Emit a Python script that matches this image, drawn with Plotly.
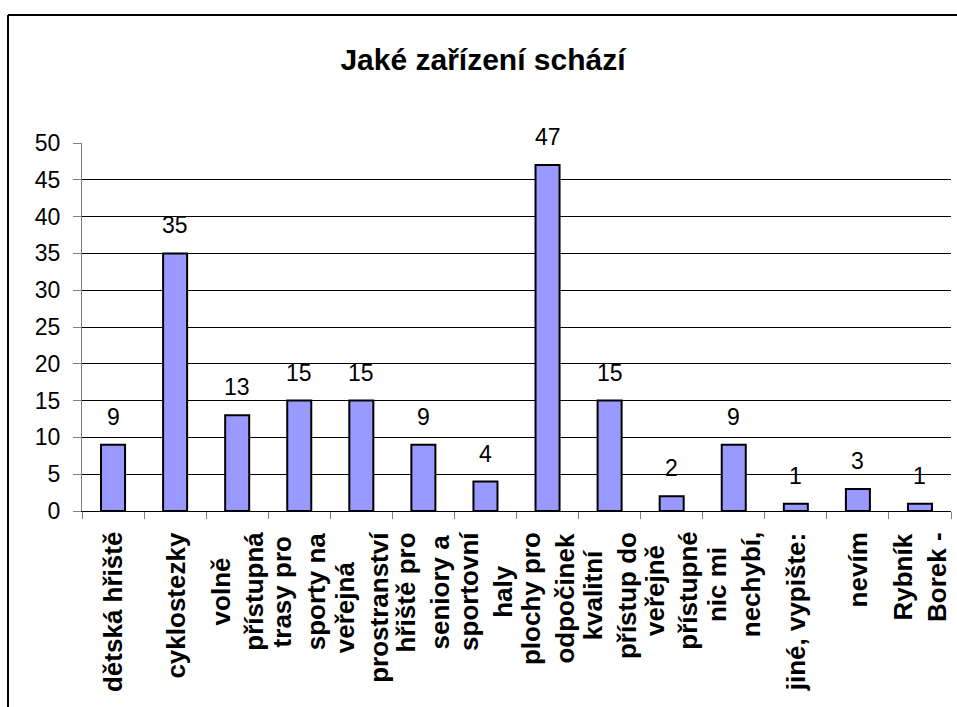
import plotly.graph_objects as go

categories = [
    "dětská hřiště",
    "cyklostezky",
    "volně<br>přístupná",
    "trasy pro<br>sporty na",
    "veřejná<br>prostranství",
    "hřiště pro<br>seniory a",
    "sportovní<br>haly",
    "plochy pro<br>odpočinek",
    "kvalitní<br>přístup do",
    "veřejně<br>přístupné",
    "nic mi<br>nechybí,",
    "jiné, vypište:",
    "nevím",
    "Rybník<br>Borek -",
]
values = [9, 35, 13, 15, 15, 9, 4, 47, 15, 2, 9, 1, 3, 1]
y_ticks = [0, 5, 10, 15, 20, 25, 30, 35, 40, 45, 50]
grid_ticks = [5, 10, 15, 20, 25, 30, 35, 40, 45]
title_text = "Jaké zařízení schází"

FONT = "Liberation Sans, Arial, sans-serif"
W, H = 957, 707
L, R, T, B = 82, 6, 143, 196

fig = go.Figure()
fig.add_trace(go.Bar(
    x=categories, y=values,
    marker=dict(color="#9999FF", line=dict(color="black", width=2)),
    hoverinfo="skip", showlegend=False,
))
# helper trace for gridline axis
fig.add_trace(go.Scatter(
    x=categories, y=values, yaxis="y2", mode="markers",
    marker=dict(opacity=0, size=1), hoverinfo="skip", showlegend=False,
))

annotations = []
for c, v in zip(categories, values):
    annotations.append(dict(
        x=c, y=v, xref="x", yref="y", text=str(v), showarrow=False,
        yanchor="bottom", xanchor="center", yshift=13,
        font=dict(family=FONT, size=23, color="black"),
    ))
for c in categories:
    annotations.append(dict(
        x=c, y=0, xref="x", yref="paper", text="<b>" + c + "</b>",
        showarrow=False, textangle=-90, align="center",
        xanchor="center", yanchor="top", yshift=-19,
        font=dict(family=FONT, size=26, color="black"),
    ))

pw = W - L - R
ph = H - T - B
bx0 = (8 - L) / pw
bx1 = (W + 20 - L) / pw
by0 = -(B + 20) / ph
by1 = (H - B - 15) / ph
border = dict(color="black", width=2)
fig.update_layout(
    width=W, height=H,
    margin=dict(l=L, r=R, t=T, b=B, pad=0),
    paper_bgcolor="white", plot_bgcolor="white",
    bargap=0.613,
    title=dict(text="<b>" + title_text + "</b>", x=483 / W, xanchor="center",
               y=1 - 59 / H, yanchor="middle",
               font=dict(family=FONT, size=30, color="black")),
    xaxis=dict(type="category", range=[-0.5, len(categories) - 0.5],
               showticklabels=False, showgrid=False,
               showline=True, linecolor="black", linewidth=1,
               ticks="outside", tickson="boundaries", ticklen=7,
               tickcolor="#808080", tickwidth=1, zeroline=False),
    yaxis=dict(range=[0, 50], tickvals=y_ticks, showgrid=False,
               showline=True, linecolor="#808080", linewidth=1,
               ticks="outside", ticklen=8, tickcolor="#808080",
               ticklabelstandoff=8, zeroline=False,
               tickfont=dict(family=FONT, size=23, color="black")),
    yaxis2=dict(range=[0, 50], overlaying="y", tickvals=grid_ticks,
                showgrid=True, gridcolor="black", gridwidth=1,
                showticklabels=False, ticks="", showline=False,
                zeroline=False, side="left"),
    annotations=annotations,
    shapes=[
        dict(type="line", xref="paper", yref="paper",
             x0=bx0, x1=bx0, y0=by0, y1=by1, line=border, layer="below"),
        dict(type="line", xref="paper", yref="paper",
             x0=bx0, x1=bx1, y0=by1, y1=by1, line=border, layer="below"),
    ],
)

fig.write_html(
    "out.html",
    post_script=(
        "var s=document.createElement('style');"
        "s.textContent='.modebar-container{display:none !important;}';"
        "document.head.appendChild(s);"
        "document.body.style.margin='0';"
        "document.body.style.overflow='hidden';"
        "document.documentElement.style.overflow='hidden';"
    ),
)
